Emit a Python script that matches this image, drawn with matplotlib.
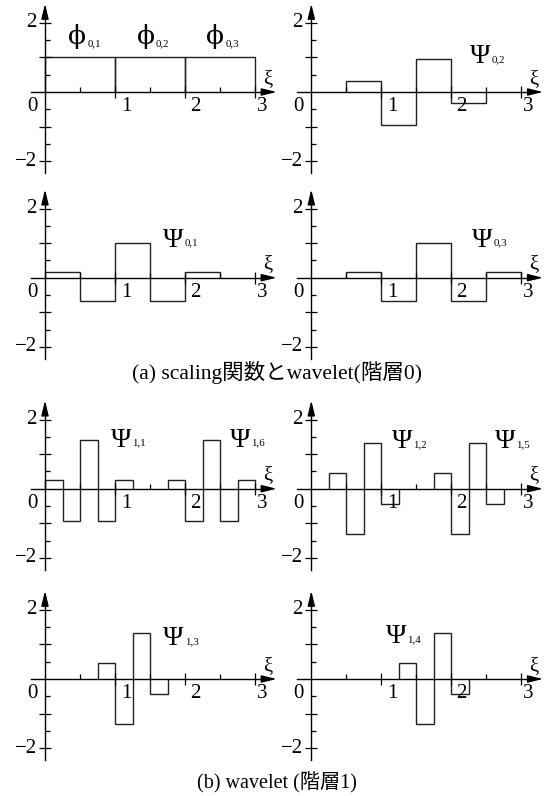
import numpy as np
import matplotlib
matplotlib.use("Agg")
import matplotlib.pyplot as plt

plt.rcParams['font.family'] = ['Liberation Serif', 'DejaVu Serif', 'Noto Sans CJK JP']

# level 0 scaling functions (unit boxes)
phi_edges = [[0, 1], [1, 2], [2, 3]]
phi_values = [[1.0], [1.0], [1.0]]

# level 0 wavelets
psi01_edges = [0, 0.5, 1, 1.5, 2, 2.5]
psi01_values = [0.17, -0.67, 1.0, -0.67, 0.17]
psi02_edges = [0.5, 1, 1.5, 2, 2.5]
psi02_values = [0.33, -0.95, 0.95, -0.33]
psi03_edges = [0.5, 1, 1.5, 2, 2.5, 3]
psi03_values = [0.17, -0.67, 1.0, -0.67, 0.17]

# level 1 wavelets
psi11_edges = [0, 0.25, 0.5, 0.75, 1, 1.25]
psi11_values = [0.25, -0.93, 1.42, -0.93, 0.25]
psi16_edges = [1.75, 2, 2.25, 2.5, 2.75, 3]
psi16_values = [0.25, -0.93, 1.42, -0.93, 0.25]
psi12_edges = [0.25, 0.5, 0.75, 1, 1.25]
psi12_values = [0.46, -1.3, 1.33, -0.43]
psi15_edges = [1.75, 2, 2.25, 2.5, 2.75]
psi15_values = [0.46, -1.3, 1.33, -0.43]
psi13_edges = [0.75, 1, 1.25, 1.5, 1.75]
psi13_values = [0.45, -1.31, 1.33, -0.44]
psi14_edges = [1.25, 1.5, 1.75, 2, 2.25]
psi14_values = [0.45, -1.31, 1.33, -0.44]

W, H = 544, 796
XU, YU = 70.0, 34.6
XL, YL = (-0.5, 3.6), (-2.6, 2.75)

fig = plt.figure(figsize=(W / 100, H / 100), dpi=100)


def make_axes(ox, oy):
    # place the axes so that the data origin sits at pixel (ox, oy)
    left = (ox + XL[0] * XU) / W
    bottom = (H - oy + YL[0] * YU) / H
    ax = fig.add_axes([left, bottom, (XL[1] - XL[0]) * XU / W, (YL[1] - YL[0]) * YU / H])
    ax.set_xlim(*XL)
    ax.set_ylim(*YL)
    ax.patch.set_visible(False)
    for s in ['top', 'right']:
        ax.spines[s].set_visible(False)
    ax.spines['left'].set_position(('data', 0))
    ax.spines['bottom'].set_position(('data', 0))
    ax.spines['left'].set_bounds(-2.35, 2.4)
    ax.spines['bottom'].set_bounds(-0.2, 3.2)
    for s in ['left', 'bottom']:
        ax.spines[s].set_linewidth(1.0)
    ax.set_xticks([1, 2, 3])
    ax.set_xticks([0.5, 1.5, 2.5], minor=True)
    ax.set_yticks([-2, -1, 1, 2])
    ax.set_yticks([-1.5, -0.5, 0.5, 1.5], minor=True)
    ax.tick_params(which='major', direction='inout', length=8.5, width=0.9,
                   labelbottom=False, labelleft=False)
    ax.tick_params(which='minor', direction='in', length=3.8, width=0.9)
    # arrow heads
    ax.annotate('', xy=(0, 2.55), xytext=(0, 2.3),
                arrowprops=dict(arrowstyle='-|>,head_length=0.9,head_width=0.22',
                                color='k', lw=1.0, shrinkA=0, shrinkB=0))
    ax.annotate('', xy=(3.31, 0), xytext=(3.15, 0),
                arrowprops=dict(arrowstyle='-|>,head_length=0.9,head_width=0.22',
                                color='k', lw=1.0, shrinkA=0, shrinkB=0))
    # tick labels
    ax.text(-0.11, -0.42, '0', ha='right', va='center', fontsize=15)
    for v, x in zip(['1', '2', '3'], [1.09, 2.07, 3.03]):
        ax.text(x, -0.42, v, ha='left', va='center', fontsize=15)
    ax.text(-0.12, 2, '2', ha='right', va='center', fontsize=15)
    ax.text(-0.12, -2, '\u22122', ha='right', va='center', fontsize=15)
    ax.text(3.18, 0.37, '\u03be', ha='center', va='center', fontsize=15)
    return ax


def draw(ax, edges, values):
    ax.stairs(values, edges, baseline=0, color='#222222', lw=1.0)


def label(ax, x, y, glyph, sub, size=20, dx=15.6, dy=0.8, family=None):
    kw = {'family': family} if family else {}
    ax.text(x, y, glyph, ha='left', va='baseline', fontsize=size, **kw)
    ax.annotate(sub, xy=(x, y), xytext=(dx, dy), textcoords='offset points',
                ha='left', va='baseline', fontsize=7.8)


L, R = 45.0, 311.3

ax1 = make_axes(L, 92.0)
for e, v in zip(phi_edges, phi_values):
    draw(ax1, e, v)
for x, s in zip([0.33, 1.31, 2.30], ['0,1', '0,2', '0,3']):
    label(ax1, x, 1.40, '\u03d5', s, size=19, dx=13.9, dy=-2.0,
          family=['DejaVu Serif'])

ax2 = make_axes(R, 92.0)
draw(ax2, psi02_edges, psi02_values)
label(ax2, 2.27, 0.83, '\u03a8', '0,2')

ax3 = make_axes(L, 277.7)
draw(ax3, psi01_edges, psi01_values)
label(ax3, 1.69, 0.90, '\u03a8', '0,1')

ax4 = make_axes(R, 277.7)
draw(ax4, psi03_edges, psi03_values)
label(ax4, 2.29, 0.90, '\u03a8', '0,3')

ax5 = make_axes(L, 488.7)
draw(ax5, psi11_edges, psi11_values)
draw(ax5, psi16_edges, psi16_values)
label(ax5, 0.94, 1.21, '\u03a8', '1,1')
label(ax5, 2.64, 1.21, '\u03a8', '1,6')

ax6 = make_axes(R, 488.7)
draw(ax6, psi12_edges, psi12_values)
draw(ax6, psi15_edges, psi15_values)
label(ax6, 1.15, 1.17, '\u03a8', '1,2')
label(ax6, 2.62, 1.17, '\u03a8', '1,5')

ax7 = make_axes(L, 679.0)
draw(ax7, psi13_edges, psi13_values)
label(ax7, 1.69, 0.98, '\u03a8', '1,3')

ax8 = make_axes(R, 679.0)
draw(ax8, psi14_edges, psi14_values)
label(ax8, 1.06, 1.03, '\u03a8', '1,4')

fig.text(277 / W, 1 - 373 / H, '(a) scaling関数とwavelet(階層0)',
         ha='center', va='center', fontsize=15.5)
fig.text(277 / W, 1 - 783 / H, '(b) wavelet (階層1)',
         ha='center', va='center', fontsize=14.5)

fig.savefig('out.png', dpi=100)
